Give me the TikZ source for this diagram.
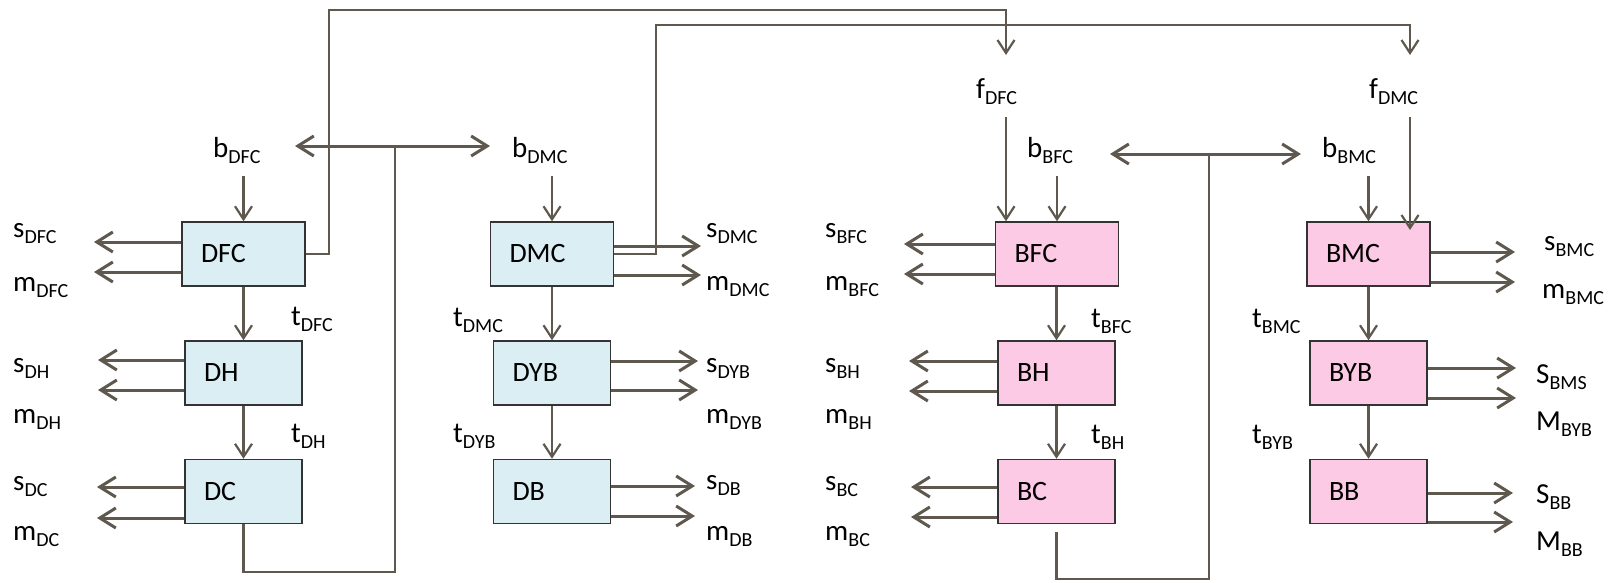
\documentclass[tikz,border=0pt]{standalone}
\usepackage{fontspec}
\setmainfont{Carlito}
\usetikzlibrary{arrows.meta}
\definecolor{lc}{RGB}{94,88,78}
\definecolor{bblue}{RGB}{219,238,244}
\definecolor{bpink}{RGB}{252,202,228}
\newcommand{\lab}[2]{#1\raisebox{-6pt}{\fontsize{20}{20}\selectfont #2}}
\begin{document}
\begin{tikzpicture}[x=1pt,y=-1pt,
  box/.style={draw=black!80, line width=1.5pt, minimum height=64pt, inner ysep=0pt, inner xsep=19pt, align=left, font=\fontsize{28}{30}\selectfont},
  wbox/.style={box, text width=85pt},
  nbox/.style={box, text width=79pt},
  lbl/.style={inner sep=0pt, anchor=base west, font=\fontsize{29}{30}\selectfont},
  conn/.style={draw=lc, line width=2.2pt},
  thin/.style={conn, -{Straight Barb[length=13pt,width=17pt]}},
  big/.style={draw=lc, line width=3pt, -{Straight Barb[length=16pt,width=20pt]}},
  dbl/.style={draw=lc, line width=3pt, {Straight Barb[length=16pt,width=20pt]}-{Straight Barb[length=16pt,width=20pt]}}
]
\useasboundingbox[fill=white] (0,0) rectangle (1623,582);

% boxes
\node[wbox, fill=bblue] (DFC) at (243.5,254) {DFC};
\node[nbox, fill=bblue] (DH)  at (243.5,373) {DH};
\node[nbox, fill=bblue] (DC)  at (243.5,491.5) {DC};
\node[wbox, fill=bblue] (DMC) at (552,254) {DMC};
\node[nbox, fill=bblue] (DYB) at (552,373) {DYB};
\node[nbox, fill=bblue] (DB)  at (552,491.5) {DB};
\node[wbox, fill=bpink] (BFC) at (1057,254) {BFC};
\node[nbox, fill=bpink] (BH)  at (1056.5,373) {BH};
\node[nbox, fill=bpink] (BC)  at (1056.5,491.5) {BC};
\node[wbox, fill=bpink] (BMC) at (1368.5,254) {BMC};
\node[nbox, fill=bpink] (BYB) at (1368.5,373) {BYB};
\node[nbox, fill=bpink] (BB)  at (1368.5,491.5) {BB};

% labels
\node[lbl] (bDFC) at (213,157) {\lab{b}{DFC}};
\node[lbl] (bDMC) at (512,157) {\lab{b}{DMC}};
\node[lbl] (bBFC) at (1027,157) {\lab{b}{BFC}};
\node[lbl] (bBMC) at (1322,157) {\lab{b}{BMC}};
\node[lbl] (fDFC) at (976,98) {\lab{f}{DFC}};
\node[lbl] (fDMC) at (1369,98) {\lab{f}{DMC}};
\node[lbl] (sDFC) at (13,237) {\lab{s}{DFC}};
\node[lbl] (mDFC) at (13,291) {\lab{m}{DFC}};
\node[lbl] (sDH) at (13,372) {\lab{s}{DH}};
\node[lbl] (mDH) at (13,423) {\lab{m}{DH}};
\node[lbl] (sDC) at (13,490) {\lab{s}{DC}};
\node[lbl] (mDC) at (13,540) {\lab{m}{DC}};
\node[lbl] (tDFC) at (291,325) {\lab{t}{DFC}};
\node[lbl] (tDH) at (291,442) {\lab{t}{DH}};
\node[lbl] (tDMC) at (453,326) {\lab{t}{DMC}};
\node[lbl] (tDYB) at (453,442) {\lab{t}{DYB}};
\node[lbl] (sDMC) at (706,237) {\lab{s}{DMC}};
\node[lbl] (mDMC) at (706,290) {\lab{m}{DMC}};
\node[lbl] (sDYB) at (706,372) {\lab{s}{DYB}};
\node[lbl] (mDYB) at (706,423) {\lab{m}{DYB}};
\node[lbl] (sDB) at (706,489) {\lab{s}{DB}};
\node[lbl] (mDB) at (706,540) {\lab{m}{DB}};
\node[lbl] (sBFC) at (825,237) {\lab{s}{BFC}};
\node[lbl] (mBFC) at (825,290) {\lab{m}{BFC}};
\node[lbl] (sBH) at (825,372) {\lab{s}{BH}};
\node[lbl] (mBH) at (825,423) {\lab{m}{BH}};
\node[lbl] (sBC) at (825,490) {\lab{s}{BC}};
\node[lbl] (mBC) at (825,540) {\lab{m}{BC}};
\node[lbl] (tBFC) at (1091,327) {\lab{t}{BFC}};
\node[lbl] (tBH) at (1091,443) {\lab{t}{BH}};
\node[lbl] (tBMC) at (1252,327) {\lab{t}{BMC}};
\node[lbl] (tBYB) at (1252,443) {\lab{t}{BYB}};
\node[lbl] (sBMC) at (1544,250) {\lab{s}{BMC}};
\node[lbl] (mBMC) at (1542,298) {\lab{m}{BMC}};
\node[lbl] (SBMS) at (1536,383) {\lab{S}{BMS}};
\node[lbl] (MBYB) at (1536,430) {\lab{M}{BYB}};
\node[lbl] (SBB) at (1536,503) {\lab{S}{BB}};
\node[lbl] (MBB) at (1536,550) {\lab{M}{BB}};

% feeds across the top
\draw[thin] (DFC.east) -- (329,254) -- (329,10) -| (1006,55);
\draw[thin] (DMC.east) -- (656,254) -- (656,25) -| (1410,55);
\draw[thin] (1006,117) -- (BFC.north -| 1006,0);
\draw[thin] (1410,117) -- (1410,230);

% b inputs
\draw[thin] (243.5,176) -- (DFC.north);
\draw[thin] (552,176) -- (DMC.north);
\draw[thin] (1057,176) -- (BFC.north);
\draw[thin] (1368.5,176) -- (BMC.north);

% vertical chains
\draw[thin] (DFC.south) -- (DH.north);
\draw[thin] (DH.south) -- (DC.north);
\draw[thin] (DMC.south) -- (DYB.north);
\draw[thin] (DYB.south) -- (DB.north);
\draw[thin] (BFC.south -| BH.north) -- (BH.north);
\draw[thin] (BH.south) -- (BC.north);
\draw[thin] (BMC.south) -- (BYB.north);
\draw[thin] (BYB.south) -- (BB.north);

% loops
\draw[conn] (DC.south) -- (243.5,572) -- (395,572) -- (395,146);
\draw[dbl] (295,146) -- (490,146);
\draw[conn] (1056.5,532) -- (1056.5,579) -- (1209,579) -- (1209,154);
\draw[dbl] (1110,154) -- (1301,154);

% side outputs, left
\draw[big] (DFC.west |- 0,242) -- (94,242);
\draw[big] (DFC.west |- 0,272) -- (94,272);
\draw[big] (DH.west |- 0,360) -- (98,360);
\draw[big] (DH.west |- 0,390) -- (98,390);
\draw[big] (DC.west |- 0,487) -- (97,487);
\draw[big] (DC.west |- 0,518) -- (97,518);
\draw[big] (BFC.west |- 0,244) -- (904,244);
\draw[big] (BFC.west |- 0,274) -- (904,274);
\draw[big] (BH.west |- 0,361) -- (909,361);
\draw[big] (BH.west |- 0,391) -- (909,391);
\draw[big] (BC.west |- 0,487) -- (911,487);
\draw[big] (BC.west |- 0,517) -- (911,517);
% side outputs, right
\draw[big] (DMC.east |- 0,246) -- (701,246);
\draw[big] (DMC.east |- 0,275) -- (701,275);
\draw[big] (DYB.east |- 0,361) -- (698,361);
\draw[big] (DYB.east |- 0,390) -- (698,390);
\draw[big] (DB.east |- 0,486) -- (695,486);
\draw[big] (DB.east |- 0,516) -- (695,516);
\draw[big] (BMC.east |- 0,252) -- (1515,252);
\draw[big] (BMC.east |- 0,282) -- (1515,282);
\draw[big] (BYB.east |- 0,368) -- (1516,368);
\draw[big] (BYB.east |- 0,398) -- (1516,398);
\draw[big] (BB.east |- 0,493) -- (1513,493);
\draw[big] (BB.east |- 0,522) -- (1513,522);
\end{tikzpicture}
\end{document}
